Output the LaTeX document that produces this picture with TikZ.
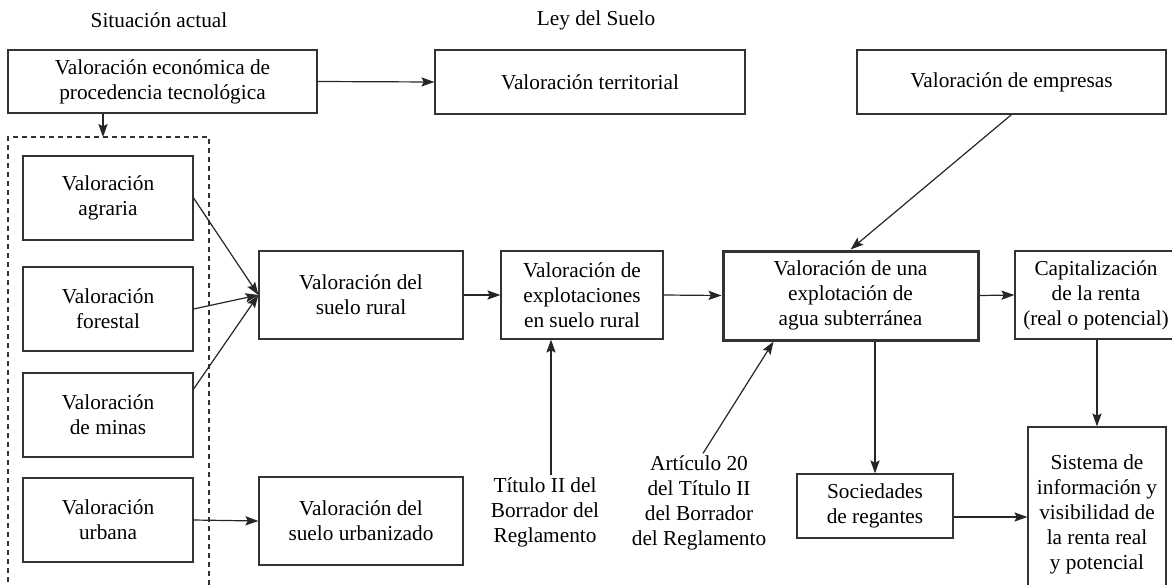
\documentclass[tikz,border=0pt]{standalone}
\usepackage{fontspec}
\setmainfont{Liberation Serif}
\usetikzlibrary{arrows.meta}
\begin{document}
\begin{tikzpicture}[x=0.5pt,y=-0.5pt,
	font=\fontsize{10.65pt}{12.5pt}\selectfont,
	box/.style={draw=black!80, line width=0.6pt, align=center, inner sep=0pt},
	mainbox/.style={box, line width=1.5pt},
	note/.style={align=center, inner sep=1pt},
	arrow/.style={draw=black!85, line width=0.6pt, -{Stealth[length=6.5pt,width=4.6pt,inset=1.2pt]}}]
	\useasboundingbox (0,0) rectangle (1172,584);
	\clip (0,0) rectangle (1172,584);
	% headings
	\node (sit) at (159,20)	[note]	{Situación actual};
	\node (ley) at (596,20)	[note]	{Ley del Suelo};
	% top row
	\node (econ) at ( 162.5, 81.5)	[box, minimum width=154.5pt, minimum height=31.5pt]	{Valoración económica de\\procedencia tecnológica};
	\node (terr) at ( 590, 82)	[box, minimum width=155pt, minimum height=32pt]	{Valoración territorial};
	\node (empr) at (1011.5, 82)	[box, minimum width=154.5pt, minimum height=32pt]	{Valoración de empresas};
	% current valuations
	\draw[black!80, line width=0.6pt, dash pattern=on 2.5pt off 2pt] (8,600) |- (209,137) -- (209,600);
	\coordinate (frametop) at (103,137);
	\node (agra) at (108,198)	[box, minimum width=85pt, minimum height=42pt]	{Valoración\\agraria};
	\node (fore) at (108,309)	[box, minimum width=85pt, minimum height=42pt]	{Valoración\\forestal};
	\node (mina) at (108,415)	[box, minimum width=85pt, minimum height=42pt]	{Valoración\\de minas};
	\node (urba) at (108,520)	[box, minimum width=85pt, minimum height=42pt]	{Valoración\\urbana};
	% middle row
	\node (rural) at ( 361, 295)	[box, minimum width=102pt, minimum height=44pt]	{Valoración del\\suelo rural};
	\node (urbz)  at ( 361, 521)	[box, minimum width=102pt, minimum height=44pt]	{Valoración del\\suelo urbanizado};
	\node (expl)  at ( 582, 295)	[box, minimum width=81pt, minimum height=44pt]	{Valoración de\\explotaciones\\en suelo rural};
	\node (agua)  at ( 850.5, 295.5)	[mainbox, minimum width=127.5pt, minimum height=44.5pt]	{Valoración de una\\explotación de\\agua subterránea};
	\node (capi)  at (1096, 295)	[box, minimum width=81pt, minimum height=44pt]	{Capitalización\\de la renta\\(real o potencial)};
	% bottom row
	\node (tit)  at ( 545, 512)	[note]	{Título II del\\Borrador del\\Reglamento};
	\node (art)  at ( 699, 503)	[note]	{Artículo 20\\del Título II\\del Borrador\\del Reglamento};
	\node (soc)  at ( 875, 506)	[box, minimum width=78pt, minimum height=32pt]	{Sociedades\\de regantes};
	\node (sist) at (1097, 514)	[box, minimum width=69pt, minimum height=87pt]	{Sistema de\\información y\\visibilidad de\\la renta real\\y potencial};
	% connectors
	\draw[arrow] (econ.east) -- (terr.west);
	\draw[arrow] (econ.south -| frametop) -- (frametop);
	\draw[arrow] (agra.east) -- (rural.west);
	\draw[arrow] (fore.east) -- (rural.west);
	\draw[arrow] ([yshift=13pt]mina.east) -- (rural.west);
	\draw[arrow] (urba.east) -- (urbz.west);
	\draw[arrow] (rural.east) -- (expl.west);
	\draw[arrow] (expl.east) -- (agua.west);
	\draw[arrow] (agua.east) -- (capi.west);
	\draw[arrow] (empr.south) -- (agua.north);
	\draw[arrow] ([xshift=3pt]tit.north) -- ([xshift=3pt]tit.north |- expl.south);
	\draw[arrow] ([xshift=2pt]art.north) -- ([xshift=-38.5pt]agua.south);
	\draw[arrow] (agua.south -| soc.north) -- (soc.north);
	\draw[arrow] (capi.south -| sist.north) -- (sist.north);
	\draw[arrow] ([yshift=-5.5pt]soc.east) -- ([yshift=-5.5pt]soc.east -| sist.west);
\end{tikzpicture}
\end{document}
